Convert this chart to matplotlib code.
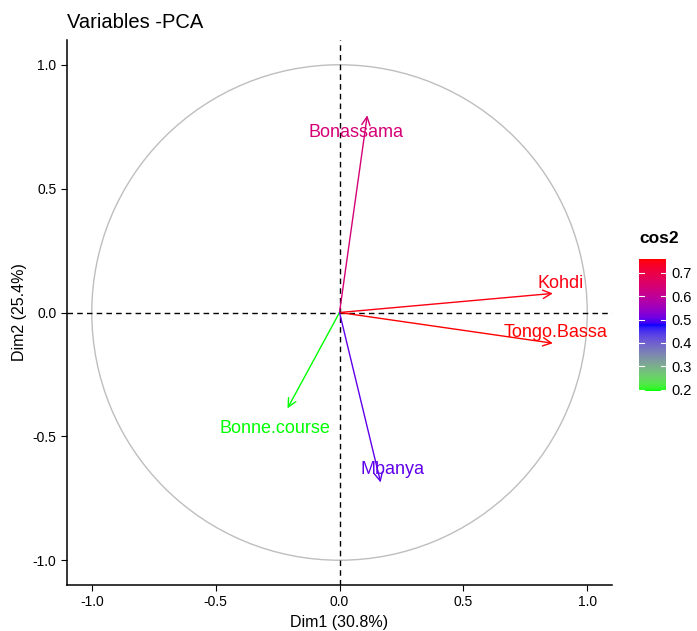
import numpy as np
import matplotlib.pyplot as plt
from matplotlib.colors import ListedColormap, Normalize
from matplotlib.patches import Circle

plt.rcParams['font.family'] = ['Liberation Sans', 'DejaVu Sans']
plt.rcParams['axes.unicode_minus'] = False

# PCA variable coordinates
variables = ["Bonassama", "Kohdi", "Tongo.Bassa", "Bonne.course", "Mbanya"]
dim1 = [0.112, 0.861, 0.861, -0.210, 0.166]
dim2 = [0.796, 0.077, -0.124, -0.387, -0.686]
cos2 = [0.640, 0.747, 0.757, 0.194, 0.498]
cbar_ticks = [0.2, 0.3, 0.4, 0.5, 0.6, 0.7]
axis_ticks = [-1.0, -0.5, 0.0, 0.5, 1.0]

# where the repelled labels ended up
label_xy = {
    "Bonassama": (0.065, 0.728),
    "Kohdi": (0.892, 0.118),
    "Tongo.Bassa": (0.872, -0.081),
    "Bonne.course": (-0.26, -0.47),
    "Mbanya": (0.213, -0.632),
}

WHITE = np.array([0.95047, 1.0, 1.08883])
M = np.array([[0.4124, 0.3576, 0.1805],
              [0.2126, 0.7152, 0.0722],
              [0.0193, 0.1192, 0.9505]])


def to_lab(rgb):
    c = np.where(rgb <= 0.04045, rgb / 12.92, ((rgb + 0.055) / 1.055) ** 2.4)
    t = (M @ c) / WHITE
    f = np.where(t > 0.008856, np.cbrt(t), 7.787 * t + 16 / 116)
    return np.array([116 * f[1] - 16, 500 * (f[0] - f[1]), 200 * (f[1] - f[2])])


def from_lab(lab):
    fy = (lab[0] + 16) / 116
    f = np.array([fy + lab[1] / 500, fy, fy - lab[2] / 200])
    t = np.where(f > 0.206893, f ** 3, (f - 16 / 116) / 7.787) * WHITE
    c = np.linalg.solve(M, t)
    c = np.clip(c, 0, 1)
    rgb = np.where(c <= 0.0031308, 12.92 * c, 1.055 * c ** (1 / 2.4) - 0.055)
    return np.clip(rgb, 0, 1)


# green -> blue -> red, interpolated in Lab like ggplot
anchors = [to_lab(np.array(c, float)) for c in ([0, 1, 0], [0, 0, 1], [1, 0, 0])]
colors = []
for s in np.linspace(0, 1, 256):
    k = min(int(s * 2), 1)
    u = s * 2 - k
    colors.append(from_lab(anchors[k] * (1 - u) + anchors[k + 1] * u))
cmap = ListedColormap(colors)
norm = Normalize(min(cos2), max(cos2))

fig = plt.figure(figsize=(6.97, 6.31), dpi=100)
ax = fig.add_axes([0.0961, 0.0729, 0.782, 0.8637])

ax.add_patch(Circle((0, 0), 1, fill=False, color='#BEBEBE', lw=1.0))
ax.axhline(0, color='black', ls='--', lw=1.0, dashes=(4, 3))
ax.axvline(0, color='black', ls='--', lw=1.0, dashes=(4, 3))

for name, x, y, c in zip(variables, dim1, dim2, cos2):
    col = cmap(norm(c))
    ax.annotate('', xy=(x, y), xytext=(0, 0),
                arrowprops=dict(arrowstyle='->', color=col, lw=1.0,
                                mutation_scale=15, shrinkA=0, shrinkB=0))
    lx, ly = label_xy[name]
    ax.text(lx, ly, name, color=col, fontsize=13, ha='center', va='center')

ax.set_xlim(-1.1, 1.1)
ax.set_ylim(-1.1, 1.1)
ax.set_aspect('equal')
ax.set_xticks(axis_ticks)
ax.set_yticks(axis_ticks)
ax.tick_params(labelsize=10, length=4, width=0.8, colors='black')
for side in ['top', 'right']:
    ax.spines[side].set_visible(False)
for side in ['left', 'bottom']:
    ax.spines[side].set_linewidth(1.1)
ax.set_xlabel('Dim1 (30.8%)', fontsize=11.5, labelpad=4)
ax.set_ylabel('Dim2 (25.4%)', fontsize=11.5, labelpad=4)
fig.text(0.0961, 0.965, 'Variables -PCA', fontsize=14.5, ha='left', va='center')

cax = fig.add_axes([0.9168, 0.380, 0.0387, 0.209])
grad = np.linspace(min(cos2), max(cos2), 256).reshape(-1, 1)
cax.imshow(grad, cmap=cmap, norm=norm, aspect='auto', origin='lower',
           extent=[0, 1, min(cos2), max(cos2)])
for t in cbar_ticks:
    cax.plot([0, 0.2], [t, t], color='white', lw=0.8)
    cax.plot([0.8, 1], [t, t], color='white', lw=0.8)
cax.set_xlim(0, 1)
cax.set_ylim(min(cos2), max(cos2))
cax.set_xticks([])
cax.yaxis.tick_right()
cax.set_yticks(cbar_ticks)
cax.set_yticklabels([f'{t:.1f}' for t in cbar_ticks])
cax.tick_params(axis='y', length=0, labelsize=10.5, pad=4)
for s in cax.spines.values():
    s.set_visible(False)
fig.text(0.9168, 0.622, 'cos2', fontsize=12.5, fontweight='bold', ha='left', va='center')

fig.savefig('out.png', dpi=100)
